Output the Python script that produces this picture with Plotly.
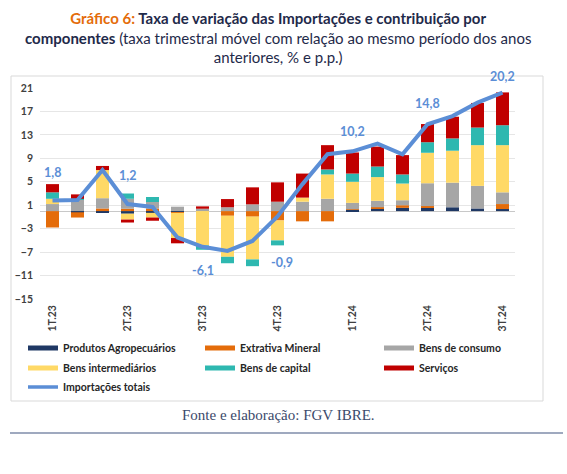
import plotly.graph_objects as go

# ---------------- data ----------------
periods = ["1T.23", "fev-abr/23", "mar-mai/23", "2T.23", "mai-jul/23", "jun-ago/23",
           "3T.23", "ago-out/23", "set-nov/23", "4T.23", "nov/23-jan/24", "dez/23-fev/24",
           "1T.24", "fev-abr/24", "mar-mai/24", "2T.24", "mai-jul/24", "jun-ago/24", "3T.24"]
tick_labels = ["1T.23", "", "", "2T.23", "", "", "3T.23", "", "", "4T.23", "", "",
               "1T.24", "", "", "2T.24", "", "", "3T.24"]

agro   = [0.0, -0.2, -0.3, -0.45, -0.3, -0.2, 0.0, 0.0, 0.0, 0.0, 0.0, 0.0,
          0.2, 0.4, 0.55, 0.65, 0.65, 0.45, 0.35]
extrat = [-2.8, -0.9, 0.45, 0.4, 0.45, -0.1, 0.0, -0.8, -0.95, -1.6, -1.75, -1.75,
          0.1, 0.25, 0.45, 0.2, 0.0, 0.0, 0.85]
consumo = [1.2, 1.9, 1.75, 1.7, 1.1, 0.75, 0.4, 0.65, 1.15, 1.6, 1.6, 2.1,
           1.1, 1.1, 0.85, 3.9, 4.2, 3.85, 2.0]
interm = [0.9, 0.0, 4.8, -1.0, -0.8, -4.3, -5.85, -7.0, -7.3, -3.4, 0.7, 4.15,
          3.6, 4.05, 2.85, 5.2, 5.45, 6.95, 8.05]
capital = [1.1, 0.2, 0.0, 0.9, 0.85, 0.0, -0.75, -1.1, -1.15, -0.85, 0.0, 0.85,
           1.4, 1.8, 1.55, 1.8, 2.1, 3.0, 3.4]
servicos = [1.4, 0.75, 0.7, -0.5, -0.55, -0.9, 0.4, 1.4, 2.9, 3.3, 4.1, 4.15,
            3.6, 3.4, 3.3, 3.1, 3.7, 4.2, 5.6]
total = [1.8, 1.9, 7.0, 1.2, 0.7, -4.5, -6.1, -6.8, -5.1, -0.9, 4.6, 9.7,
         10.2, 11.5, 9.7, 14.8, 16.2, 18.5, 20.2]

labeled_points = [0, 3, 6, 9, 12, 15, 18]

series_names = ["Produtos Agropecuários", "Extrativa Mineral", "Bens de consumo",
                "Bens intermediários", "Bens de capital", "Serviços"]
series_values = [agro, extrat, consumo, interm, capital, servicos]
line_name = "Importações totais"

y_ticks = [-15, -11, -7, -3, 1, 5, 9, 13, 17, 21]

# ---------------- style ----------------
colors = ["#1F3864", "#E46C0A", "#A6A6A6", "#FFD966", "#2EB8B0", "#C00000"]
line_color = "#5B8ED6"
label_yshift = {0: 28, 3: 29, 6: -24, 9: -46, 12: 20, 15: 21, 18: 16}
label_xshift = {9: 4}

W, H = 567, 474
ML, MR, MT, MB = 40, 52, 88, 175
PW, PH = W - ML - MR, H - MT - MB


def px(xp):
    return (xp - ML) / PW


def py(yp):
    return (H - MB - yp) / PH


x = list(range(len(periods)))

fig = go.Figure()
for name, vals, col in zip(series_names, series_values, colors):
    fig.add_trace(go.Bar(x=x, y=vals, name=name, marker=dict(color=col, line=dict(width=0)),
                         showlegend=False, hovertext=periods))
fig.add_trace(go.Scatter(x=x, y=total, name=line_name, mode="lines",
                         line=dict(color=line_color, width=4), showlegend=False,
                         hovertext=periods))

# legend entries (Excel-style line swatches), one legend per entry
legend_pos = [(23, 348), (200, 348), (379, 348), (23, 368), (200, 368), (379, 368), (23, 387)]
legend_font = dict(family="Lato", size=10.5, color="#262626", weight="bold")
names_all = series_names + [line_name]
colors_all = colors + [line_color]
widths = [5] * 6 + [3.5]
layout_legends = {}
for i, (nm, col, w) in enumerate(zip(names_all, colors_all, widths)):
    key = "legend" if i == 0 else f"legend{i + 1}"
    fig.add_trace(go.Scatter(x=[None], y=[None], mode="lines", name=nm,
                             line=dict(color=col, width=w), legend=key, showlegend=True))
    lx, ly = legend_pos[i]
    layout_legends[key] = dict(x=px(lx), y=py(ly), xanchor="left", yanchor="middle",
                               bgcolor="rgba(0,0,0,0)", borderwidth=0, font=legend_font,
                               itemclick=False)

annotations = []
for i in labeled_points:
    annotations.append(dict(
        x=x[i], y=total[i], xref="x", yref="y",
        text=f"{total[i]:.1f}".replace(".", ","),
        showarrow=False, yshift=label_yshift.get(i, 20), xshift=label_xshift.get(i, 0),
        font=dict(family="Lato", size=12.5, color=line_color, weight="bold")))

title_html = ("<b><span style='color:#E46C0A'>Gráfico 6:</span> Taxa de variação das "
              "Importações e contribuição por</b><br><b>componentes</b> (taxa trimestral "
              "móvel com relação ao mesmo período dos anos<br>anteriores, % e p.p.)")
annotations.append(dict(x=px(278), y=py(7), xref="paper", yref="paper",
                        xanchor="center", yanchor="top", text=title_html, showarrow=False,
                        align="center",
                        font=dict(family="Lato", size=15, color="#1F2A4A")))
annotations.append(dict(x=px(278), y=py(415), xref="paper", yref="paper",
                        xanchor="center", yanchor="middle",
                        text="Fonte e elaboração: FGV IBRE.", showarrow=False,
                        font=dict(family="Liberation Serif", size=15, color="#3B4A6B")))

shapes = [
    dict(type="rect", xref="paper", yref="paper", x0=px(11), x1=px(543), y0=py(401), y1=py(76),
         line=dict(color="#D9D9D9", width=1), fillcolor="rgba(0,0,0,0)", layer="below"),
    dict(type="line", xref="paper", yref="paper", x0=px(10), x1=px(563), y0=py(433), y1=py(433),
         line=dict(color="#7F8CAA", width=1.5)),
]

fig.update_layout(
    width=W, height=H,
    margin=dict(l=ML, r=MR, t=MT, b=MB, autoexpand=False),
    barmode="relative", bargap=0.48,
    plot_bgcolor="white", paper_bgcolor="white",
    annotations=annotations, shapes=shapes,
    **layout_legends,
)
fig.update_xaxes(range=[-0.5, len(periods) - 0.5], tickmode="array", tickvals=x,
                 ticktext=tick_labels, tickangle=-90, showgrid=False, zeroline=False,
                 showline=False, ticks="", ticklabelstandoff=3,
                 tickfont=dict(family="Lato", size=10.5, color="#404040", weight="bold"))
fig.update_yaxes(range=[-15, 21], tickmode="array", tickvals=y_ticks,
                 showgrid=True, gridcolor="#E6E6E6", gridwidth=1,
                 zeroline=True, zerolinecolor="#C8C8C8", zerolinewidth=1,
                 showline=False, ticks="", ticklabelstandoff=6,
                 tickfont=dict(family="Lato", size=10.5, color="#404040", weight="bold"))

fig.write_html("out.html")
